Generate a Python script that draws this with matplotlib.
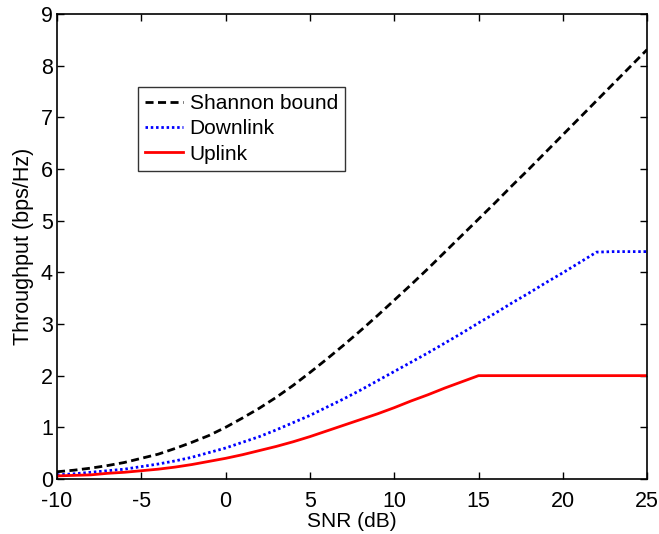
import matplotlib
matplotlib.use("Agg")
import matplotlib.pyplot as plt

# SNR grid (dB) and throughput curves (bps/Hz)
snr_db = list(range(-10, 26))

shannon = [0.14, 0.17, 0.21, 0.26, 0.32, 0.40, 0.48, 0.59, 0.71, 0.84,
           1.00, 1.18, 1.37, 1.58, 1.81, 2.06, 2.32, 2.59, 2.87, 3.16,
           3.46, 3.76, 4.07, 4.39, 4.71, 5.03, 5.35, 5.68, 6.00, 6.33,
           6.66, 6.99, 7.32, 7.65, 7.98, 8.31]

downlink = [0.08, 0.10, 0.13, 0.16, 0.19, 0.24, 0.29, 0.35, 0.42, 0.51,
            0.60, 0.71, 0.82, 0.95, 1.09, 1.23, 1.39, 1.55, 1.72, 1.90,
            2.08, 2.26, 2.44, 2.63, 2.82, 3.02, 3.21, 3.41, 3.60, 3.80,
            3.99, 4.19, 4.39, 4.40, 4.40, 4.40]

uplink = [0.06, 0.07, 0.08, 0.11, 0.13, 0.16, 0.19, 0.23, 0.28, 0.34,
          0.40, 0.47, 0.55, 0.63, 0.72, 0.82, 0.93, 1.04, 1.15, 1.26,
          1.38, 1.51, 1.63, 1.76, 1.88, 2.00, 2.00, 2.00, 2.00, 2.00,
          2.00, 2.00, 2.00, 2.00, 2.00, 2.00]

series_labels = ["Shannon bound", "Downlink", "Uplink"]
x_ticks = [-10, -5, 0, 5, 10, 15, 20, 25]
y_ticks = list(range(0, 10))

plt.rcParams["font.family"] = ["Liberation Sans", "DejaVu Sans"]

fig = plt.figure(figsize=(6.59, 5.34), dpi=100)
ax = fig.add_axes([0.0865, 0.103, 0.8955, 0.871])

ax.plot(snr_db, shannon, color="black", linestyle=(0, (2.9, 1.6)), linewidth=2.0,
        label=series_labels[0])
ax.plot(snr_db, downlink, color="blue", linestyle=(0, (0.9, 1.0)), linewidth=2.0,
        label=series_labels[1])
ax.plot(snr_db, uplink, color="red", linestyle="-", linewidth=2.0,
        label=series_labels[2])

ax.set_xlim(-10, 25)
ax.set_ylim(0, 9)
ax.set_xticks(x_ticks)
ax.set_yticks(y_ticks)
ax.set_xticklabels([str(t) for t in x_ticks])
ax.tick_params(direction="in", length=5, width=1.0, top=True, right=True,
               labelsize=15.5)
ax.tick_params(axis="x", pad=8.5)
ax.tick_params(axis="y", pad=3)
for sp in ax.spines.values():
    sp.set_linewidth(1.2)

ax.set_xlabel("SNR (dB)", fontsize=15, labelpad=0)
ax.set_ylabel("Throughput (bps/Hz)", fontsize=15.5, labelpad=5)

leg = ax.legend(loc="upper left", bbox_to_anchor=(0.1365, 0.843), fontsize=15,
                frameon=True, fancybox=False, edgecolor="black",
                handlelength=1.85, handletextpad=0.3, borderpad=0.35,
                labelspacing=0.3, borderaxespad=0)
leg.get_frame().set_linewidth(1.0)

fig.savefig("out.png", dpi=100)
